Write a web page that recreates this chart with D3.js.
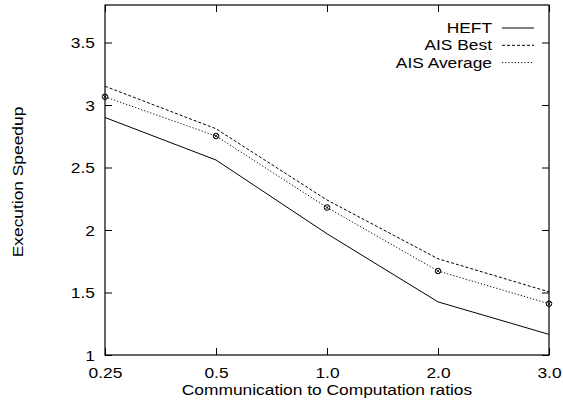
<!DOCTYPE html>
<html>
<head>
<meta charset="utf-8">
<script src="https://cdn.jsdelivr.net/npm/d3@7"></script>
<style>
body { margin: 0; background: #fff; }
text { font-family: "Liberation Sans", Arial, sans-serif; fill: #000; }
</style>
</head>
<body>
<div class="chart"></div>
<script>
var width = 563,
	height = 403;
var ratios = ["0.25", "0.5", "1.0", "2.0", "3.0"];
var heft = [2.90, 2.56, 1.97, 1.425, 1.165];
var aisBest = [3.15, 2.81, 2.24, 1.77, 1.505];
var aisAverage = [3.066, 2.752, 2.18, 1.672, 1.41];
var yTicks = [1, 1.5, 2, 2.5, 3, 3.5];
var yTickLabels = ["1", "1.5", "2", "2.5", "3", "3.5"];

var plotLeft = 105, plotRight = 549, plotTop = 5, plotBottom = 355;
var fontPx = "15.5px";
var svg = d3.select(".chart").append("svg").attr("width", width).attr("height", height);

var x = d3.scalePoint().domain(ratios).range([plotLeft, plotRight]);
var y = d3.scaleLinear().domain([1, 3.8]).range([plotBottom, plotTop]);

// frame
svg.append("rect").attr("x", plotLeft).attr("y", plotTop).attr("width", plotRight - plotLeft).attr("height", plotBottom - plotTop)
	.attr("fill", "none").attr("stroke", "#000").attr("stroke-width", 1.2);

// axes with mirrored inner ticks
var fmt = function(d){ return yTickLabels[yTicks.indexOf(d)]; };
svg.append("g").attr("transform", "translate(" + plotLeft + ",0)")
	.call(d3.axisLeft(y).tickValues(yTicks).tickFormat(fmt).tickSizeInner(-7).tickPadding(10))
	.call(g => g.select(".domain").remove())
	.call(g => g.selectAll("text").attr("dy", "0.35em"));
svg.append("g").attr("transform", "translate(" + plotRight + ",0)")
	.call(d3.axisRight(y).tickValues(yTicks).tickFormat("").tickSizeInner(-7))
	.call(g => g.select(".domain").remove());
svg.append("g").attr("transform", "translate(0," + plotBottom + ")")
	.call(d3.axisBottom(x).tickSizeInner(-7).tickPadding(12))
	.call(g => g.select(".domain").remove());
svg.append("g").attr("transform", "translate(0," + plotTop + ")")
	.call(d3.axisTop(x).tickFormat("").tickSizeInner(-7))
	.call(g => g.select(".domain").remove());
svg.selectAll(".tick text").style("font-size", fontPx).style("font-family", "Liberation Sans, Arial, sans-serif");
svg.selectAll(".tick line").attr("stroke-width", 1);

// axis titles
svg.append("text").attr("x", (plotLeft + plotRight) / 2).attr("y", 395).attr("text-anchor", "middle")
	.style("font-size", fontPx).text("Communication to Computation ratios");
svg.append("text").attr("transform", "translate(23,182) rotate(-90)").attr("text-anchor", "middle")
	.style("font-size", fontPx).text("Execution Speedup");

var series = [
	{name: "HEFT", values: heft, dash: null},
	{name: "AIS Best", values: aisBest, dash: "3,2"},
	{name: "AIS Average", values: aisAverage, dash: "1.2,2"}
];
var line = d3.line().x((d, i) => x(ratios[i])).y(d => y(d));

series.forEach(function(s, k){
	svg.append("path").datum(s.values).attr("d", line)
		.attr("fill", "none").attr("stroke", "#000").attr("stroke-width", 1)
		.attr("stroke-dasharray", s.dash);
	var ly = 28 + k * 17.3;
	svg.append("text").attr("x", 492).attr("y", ly + 5).attr("text-anchor", "end")
		.style("font-size", fontPx).text(s.name);
	svg.append("line").attr("x1", 502).attr("x2", 534).attr("y1", ly).attr("y2", ly)
		.attr("stroke", "#000").attr("stroke-width", 1).attr("stroke-dasharray", s.dash);
});

// markers on AIS Average
var pts = svg.append("g").selectAll("g").data(aisAverage).enter().append("g")
	.attr("transform", (d, i) => "translate(" + x(ratios[i]) + "," + y(d) + ")");
pts.append("circle").attr("r", 2.8).attr("fill", "none").attr("stroke", "#000").attr("stroke-width", 1);
pts.append("path").attr("d", "M-1.8,-1.8L1.8,1.8M-1.8,1.8L1.8,-1.8").attr("stroke", "#000").attr("stroke-width", 0.8);

// the original lettering is a little wider than Liberation Sans
svg.selectAll("text").each(function(){
	var w = this.getComputedTextLength();
	if (w > 0) d3.select(this).attr("textLength", w * 1.12).attr("lengthAdjust", "spacingAndGlyphs");
});
</script>
</body>
</html>
